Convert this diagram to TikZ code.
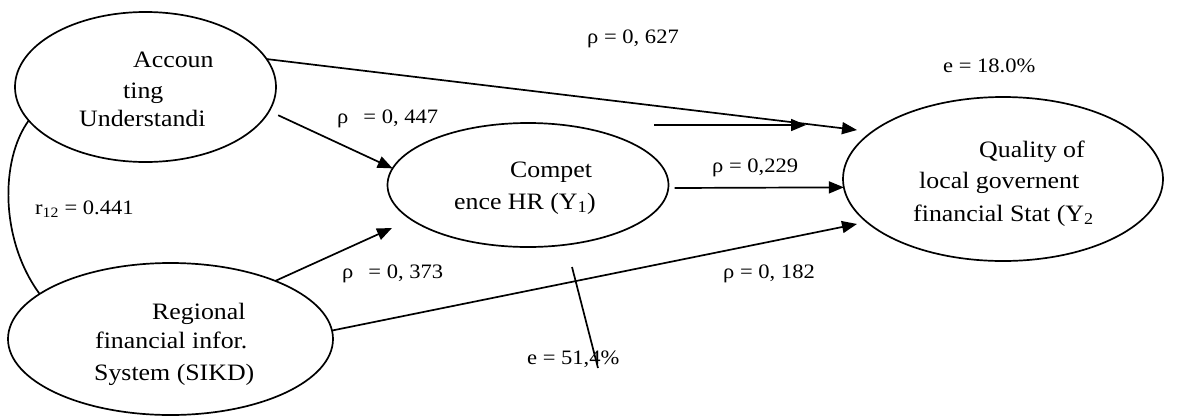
\documentclass[tikz,border=0pt]{standalone}
\usepackage{fontspec}
\setmainfont{Liberation Serif}[FakeStretch=1.1]
\usetikzlibrary{arrows.meta,shapes.geometric,calc}
\begin{document}
\begin{tikzpicture}[x=1pt,y=-1pt,
 ell/.style={draw,ellipse,line width=1.7pt,inner sep=0pt,outer sep=0pt},
 arr/.style={line width=1.7pt,-{Triangle[length=15pt,width=12pt]}},
 ln/.style={line width=1.7pt},
 txt/.style={anchor=base west,inner sep=0pt,font=\fontsize{23.5}{28}\selectfont},
 lbl/.style={anchor=base west,inner sep=0pt,font=\fontsize{20.5}{24}\selectfont}]
\useasboundingbox (0,0) rectangle (1179,416);
% ellipses
\node[ell,minimum width=261pt,minimum height=150pt] (A) at (145.5,87) {};
\node[ell,minimum width=281pt,minimum height=124pt] (C) at (528,185) {};
\node[ell,minimum width=320pt,minimum height=164pt] (Q) at (1003,179) {};
\node[ell,minimum width=325pt,minimum height=152pt] (R) at (170.5,339) {};
% ellipse texts
\node[txt] (a1) at (133,67) {Accoun};
\node[txt] (a2) at (123,98) {ting};
\node[txt] (a3) at (79,126) {Understandi};
\node[txt] (c1) at (510,177) {Compet};
\node[txt] (c2) at (454,209) {ence HR (Y\textsubscript{1})};
\node[txt] (q1) at (979,157) {Quality of};
\node[txt] (q2) at (919,188) {local governent};
\node[txt] (q3) at (913,221) {financial Stat (Y\textsubscript{2}};
\node[txt] (r1) at (152,319) {Regional};
\node[txt] (r2) at (95,348) {financial infor.};
\node[txt] (r3) at (94,380) {System (SIKD)};
% labels
\node[lbl] (l627) at (587,43) {ρ = 0, 627};
\node[lbl] (le18) at (943,72) {e = 18.0\%};
\node[lbl] (l447) at (337,123) {ρ\hspace{15pt}= 0, 447};
\node[lbl] (l373) at (342,278) {ρ\hspace{15pt}= 0, 373};
\node[lbl] (l229) at (712,172) {ρ = 0,229};
\node[lbl] (l182) at (723,278) {ρ = 0, 182};
\node[lbl] (lr12) at (35,214) {r\textsubscript{12} = 0.441};
\node[lbl] (le51) at (527,364) {e = 51,4\%};
% free ends
\coordinate (qa) at (857,130);
\coordinate (cr) at (392,228);
\coordinate (qr) at (857,224);
\coordinate (s1) at (654,125);
\coordinate (s2) at (806,125);
\coordinate (e1) at (572,267);
\coordinate (e2) at (598,368);
% connectors
\draw[arr] (A.13) -- (qa);
\draw[arr,shorten <=10pt] (A.-11) -- (C.173);
\draw[arr] (R.29) -- (cr);
\draw[arr] ($(C.east)+(6,3)$) -- (Q.183);
\draw[arr] (R.3.5) -- (qr);
\draw[arr] (s1) -- (s2);
\draw[ln] (e1) -- (e2);
\draw[ln] (A.196) .. controls (0,160) and (0,240) .. (R.161);
\end{tikzpicture}
\end{document}
